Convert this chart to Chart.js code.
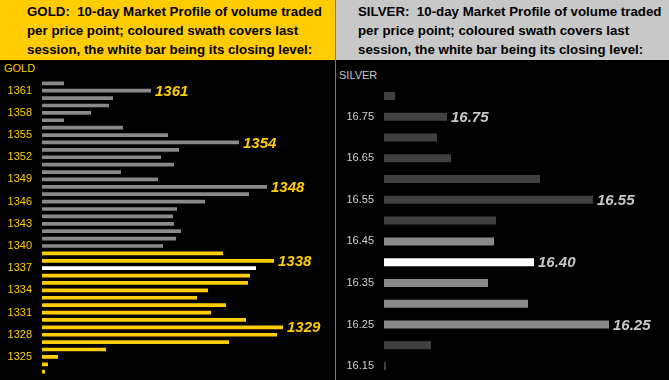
<!DOCTYPE html>
<html>
<head>
<meta charset="utf-8">
<script src="https://cdn.jsdelivr.net/npm/chart.js@4/dist/chart.umd.min.js"></script>
<style>
  html, body { margin:0; padding:0; background:#000; width:669px; height:380px; overflow:hidden; }
  .hdr { position:absolute; top:0; height:60px; box-sizing:border-box; padding-top:2px;
         font:bold 13.3px "Liberation Sans", Arial, sans-serif; line-height:19px; color:#000; white-space:pre; }
  #goldHdr { left:0; width:335px; background:#FFCC00; padding-left:27px; }
  #silverHdr { left:336px; width:333px; background:#C8C8C8; padding-left:22px; }
  #sep { position:absolute; left:335px; top:0; width:1px; height:380px; background:#777; }
  .name { position:absolute; font:11px "Liberation Sans", Arial, sans-serif; }
  #goldName { left:4px; top:62px; color:#FFCC00; }
  #silverName { left:339px; top:69px; color:#C8C8C8; }
  canvas { position:absolute; top:60px; }
  #goldCanvas { left:0; }
  #silverCanvas { left:336px; }
</style>
</head>
<body>
<div id="goldHdr" class="hdr">GOLD:  10-day Market Profile of volume traded
per price point; coloured swath covers last
session, the white bar being its closing level:</div>
<div id="sep"></div>
<div id="silverHdr" class="hdr">SILVER:  10-day Market Profile of volume traded
per price point; coloured swath covers last
session, the white bar being its closing level:</div>
<div id="goldName" class="name">GOLD</div>
<div id="silverName" class="name">SILVER</div>
<canvas id="goldCanvas" width="335" height="332"></canvas>
<canvas id="silverCanvas" width="333" height="333"></canvas>
<script>
// ---------- GOLD data ----------
const goldPrices = ['1362','1361','1360','1359','1358','1357','1356','1355','1354','1353','1352','1351','1350','1349','1348','1347','1346','1345','1344','1343','1342','1341','1340','1339','1338','1337','1336','1335','1334','1333','1332','1331','1330','1329','1328','1327','1326','1325','1324','1323'];
const goldVolume = [22,109,71,67,49,22,81,126,197,137,119,132,79,116,225,207,163,135,131,132,139,134,121,181,232,214,208,206,166,155,184,169,204,241,235,187,64,16,6,3];
const goldTickLabels = ['1361','1358','1355','1352','1349','1346','1343','1340','1337','1334','1331','1328','1325'];
const goldMarked = ['1361','1354','1348','1338','1329'];
const goldSessionHigh = 1339;
const goldSessionLow = 1323;
const goldClose = 1337;

// ---------- SILVER data ----------
const silverPrices = ['16.80','16.75','16.70','16.65','16.60','16.55','16.50','16.45','16.40','16.35','16.30','16.25','16.20','16.15'];
const silverVolume = [11,63,53,67,156,209,112,110,150,104,144,225,47,2];
const silverTickLabels = ['16.75','16.65','16.55','16.45','16.35','16.25','16.15'];
const silverMarked = ['16.75','16.55','16.40','16.25'];
const silverSessionHigh = 16.45;
const silverSessionLow = 16.25;
const silverClose = 16.40;

function colorsFor(prices, lo, hi, close, outside, inside) {
  return prices.map(p => {
    const v = parseFloat(p);
    if (Math.abs(v - close) < 1e-9) return '#FFFFFF';
    if (v >= lo - 1e-9 && v <= hi + 1e-9) return inside;
    return outside;
  });
}

function markPlugin(marked, color) {
  return {
    id: 'marks',
    afterDatasetsDraw(chart) {
      const ctx = chart.ctx;
      const meta = chart.getDatasetMeta(0);
      const labels = chart.data.labels;
      ctx.save();
      ctx.font = 'italic bold 15px "Liberation Sans", Arial, sans-serif';
      ctx.fillStyle = color;
      ctx.textAlign = 'left';
      ctx.textBaseline = 'middle';
      marked.forEach(m => {
        const i = labels.indexOf(m);
        if (i < 0) return;
        const el = meta.data[i];
        ctx.fillText(m, el.x + 4, el.y + 1);
      });
      ctx.restore();
    }
  };
}

function makeChart(id, prices, volume, colors, tickLabels, tickColor, axisWidth, xMax, barPct, padTop, marked, markColor) {
  return new Chart(document.getElementById(id), {
    type: 'bar',
    data: {
      labels: prices,
      datasets: [{ data: volume, backgroundColor: colors, borderWidth: 0,
                   categoryPercentage: 1.0, barPercentage: barPct }]
    },
    options: {
      indexAxis: 'y',
      responsive: false,
      animation: false,
      devicePixelRatio: 1,
      layout: { padding: { top: padTop, bottom: 0, left: 0, right: 0 } },
      plugins: { legend: { display: false }, tooltip: { enabled: false } },
      scales: {
        x: { display: false, min: 0, max: xMax },
        y: {
          grid: { display: false, drawTicks: false },
          border: { display: false },
          afterFit(scale) { scale.width = axisWidth; },
          ticks: {
            autoSkip: false,
            padding: 10,
            color: tickColor,
            font: { family: '"Liberation Sans", Arial, sans-serif', size: 11 },
            callback(value) {
              const l = this.getLabelForValue(value);
              return tickLabels.includes(l) ? l : '';
            }
          }
        }
      }
    },
    plugins: [markPlugin(marked, markColor)]
  });
}

makeChart('goldCanvas', goldPrices, goldVolume,
  colorsFor(goldPrices, goldSessionLow, goldSessionHigh, goldClose, '#898989', '#FFCC00'),
  goldTickLabels, '#FFCC00', 42, 293, 0.5, 19.6, goldMarked, '#FFCC00');

makeChart('silverCanvas', silverPrices, silverVolume,
  colorsFor(silverPrices, silverSessionLow, silverSessionHigh, silverClose, '#404040', '#898989'),
  silverTickLabels, '#D0D0D0', 48, 285, 0.385, 25.6, silverMarked, '#C8C8C8');
</script>
</body>
</html>
